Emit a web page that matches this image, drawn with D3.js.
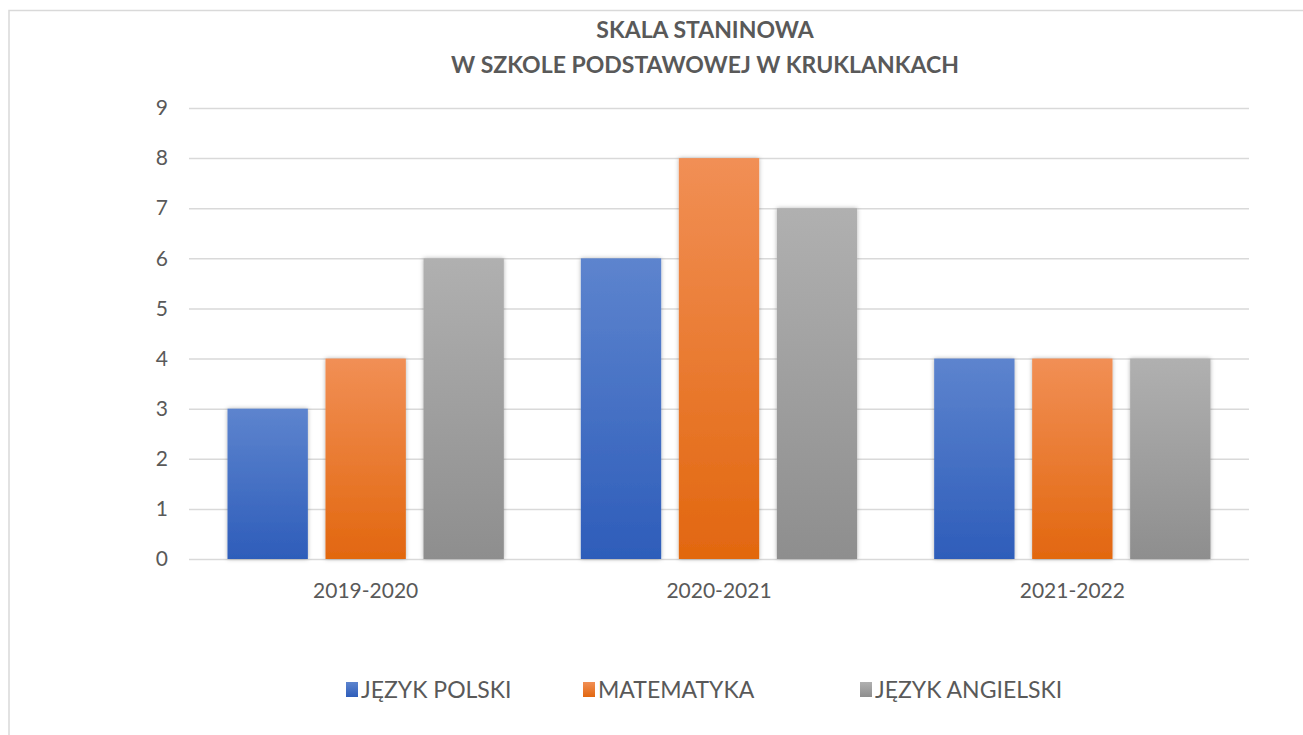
<!DOCTYPE html>
<html>
<head>
<meta charset="utf-8">
<script src="https://cdn.jsdelivr.net/npm/d3@7"></script>
<style>
  body { margin:0; background:#fff; }
  text { font-family: Lato, 'Open Sans', sans-serif; fill:#595959; }
</style>
</head>
<body>
<script>
const categories = ['2019-2020','2020-2021','2021-2022']
const series = ['JĘZYK POLSKI','MATEMATYKA','JĘZYK ANGIELSKI']
const polski = [3,6,4]
const matematyka = [4,8,4]
const angielski = [6,7,4]
const yTicks = [0,1,2,3,4,5,6,7,8,9]
const titleLines = ['SKALA STANINOWA','W SZKOLE PODSTAWOWEJ W KRUKLANKACH']

const values = [polski,matematyka,angielski]
const colors = [
  {top:'#5d84ce',bot:'#2e5dba'},
  {top:'#f18f55',bot:'#e2670f'},
  {top:'#b0b0b0',bot:'#8e8e8e'}
]

let width=1303,height=735
const svg = d3.select('body').append('svg')
  .attr('width',width)
  .attr('height',height)

const defs = svg.append('defs')
colors.forEach((c,i) => {
  const grad = defs.append('linearGradient')
    .attr('id','grad'+i)
    .attr('x1',0).attr('y1',0).attr('x2',0).attr('y2',1)
  grad.append('stop').attr('offset','0%').attr('stop-color',c.top)
  grad.append('stop').attr('offset','100%').attr('stop-color',c.bot)
})
defs.append('filter').attr('id','shadow')
  .attr('x','-20%').attr('y','-20%').attr('width','140%').attr('height','140%')
  .append('feDropShadow')
  .attr('dx',0).attr('dy',0).attr('stdDeviation',2)
  .attr('flood-color','#000').attr('flood-opacity',0.3)

// chart border
svg.append('rect')
  .attr('x',9).attr('y',10.5)
  .attr('width',1400).attr('height',800)
  .attr('fill','none')
  .attr('stroke','#d9d9d9')
  .attr('stroke-width',1.5)

const title = svg.append('text')
  .attr('x',705)
  .attr('text-anchor','middle')
  .style('font-weight','bold')
  .style('font-size','23px')
titleLines.forEach((t,i) => {
  title.append('tspan').attr('x',705).attr('y',38+i*35).text(t)
})

const y = d3.scaleLinear().domain([0,9]).range([559,108])
const x0 = d3.scaleBand().domain(categories).range([189,1249])
const x1 = d3.scaleBand().domain(series)
  .range([38.5,x0.bandwidth()-38.5])
  .paddingInner(0.18)

const yAxis = svg.append('g')
  .attr('transform','translate(189,0)')
  .call(d3.axisLeft(y).tickValues(yTicks).tickSize(-1060).tickPadding(21))
yAxis.select('.domain').remove()
yAxis.selectAll('line').attr('stroke','#d9d9d9').attr('stroke-width',1.5)
yAxis.selectAll('text').style('font-size','21px').style('font-family','Lato, sans-serif').attr('fill','#595959')

const xAxis = svg.append('g')
  .attr('transform','translate(0,559)')
  .call(d3.axisBottom(x0).tickSize(0).tickPadding(24))
xAxis.select('.domain').remove()
xAxis.selectAll('text').style('font-size','21px').style('font-family','Lato, sans-serif').attr('fill','#595959')

const groups = svg.append('g').selectAll('g')
  .data(categories)
  .join('g')
  .attr('transform',d => `translate(${x0(d)},0)`)

groups.selectAll('rect')
  .data((d,ci) => series.map((s,si) => ({s,si,v:values[si][ci]})))
  .join('rect')
  .attr('x',d => x1(d.s))
  .attr('width',x1.bandwidth())
  .attr('y',d => y(d.v))
  .attr('height',d => y(0)-y(d.v))
  .attr('fill',d => `url(#grad${d.si})`)
  .attr('filter','url(#shadow)')

const legendX = [346,583,860]
const legend = svg.append('g').selectAll('g')
  .data(series)
  .join('g')
  .attr('transform',(d,i) => `translate(${legendX[i]},682)`)
legend.append('rect')
  .attr('width',12).attr('height',15)
  .attr('fill',(d,i) => `url(#grad${i})`)
legend.append('text')
  .attr('x',15).attr('y',15.5)
  .style('font-size','23px')
  .text(d => d)
</script>
</body>
</html>
